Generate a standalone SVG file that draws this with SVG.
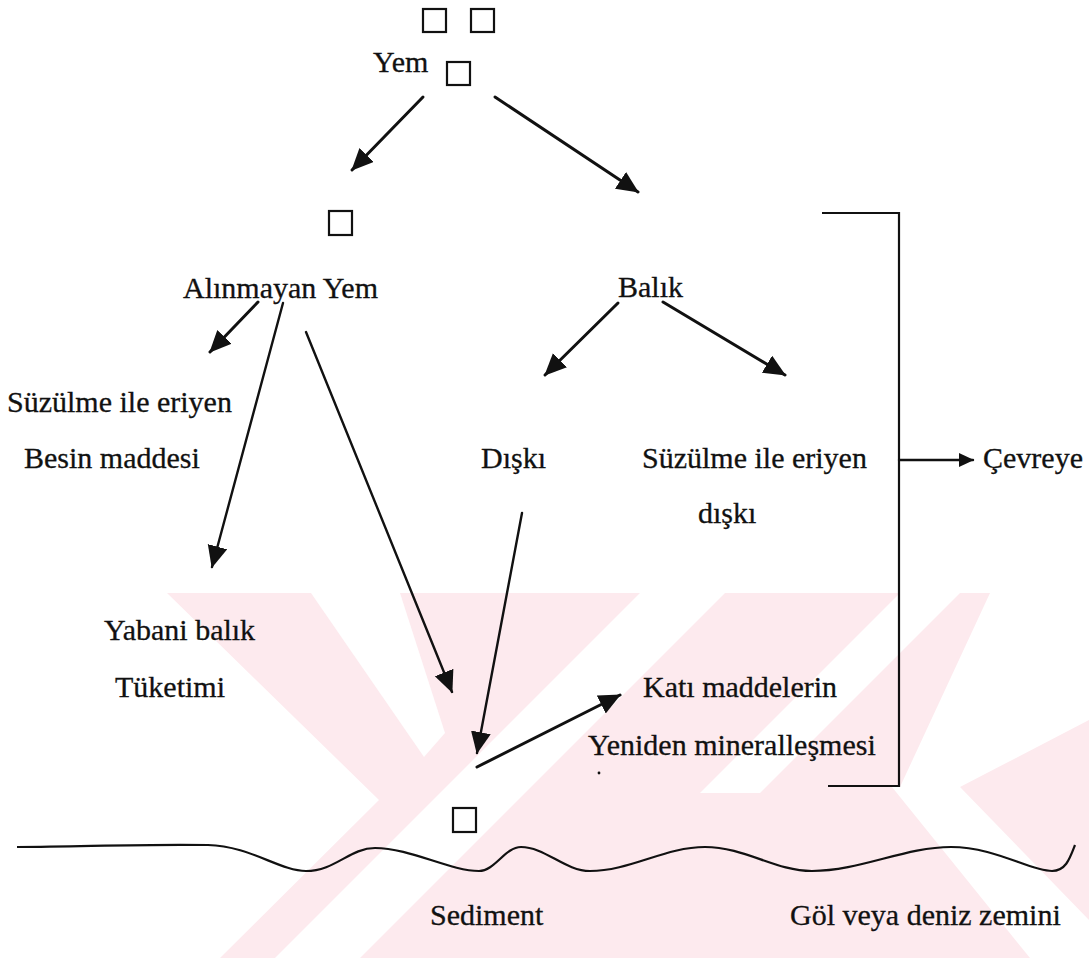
<svg xmlns="http://www.w3.org/2000/svg" width="1089" height="958" viewBox="0 0 1089 958">
<defs>
<style>
text{font-family:"Liberation Serif","Times New Roman",serif;font-size:30px;fill:#111;stroke:#111;stroke-width:0.3;}
.sq{fill:none;stroke:#111;stroke-width:2.2;}
.ln{fill:none;stroke:#111;stroke-width:3;stroke-linecap:round;}
.thin{stroke-width:2.4;}
.br{fill:none;stroke:#111;stroke-width:2.2;}
.wm{fill:#fdeaee;}
.wh{fill:#ffffff;}
</style>
<marker id="ah" markerUnits="userSpaceOnUse" markerWidth="24" markerHeight="22" viewBox="0 0 24 22" refX="21" refY="10" orient="auto"><path d="M0,0 L22,10 L0,20 Z" fill="#111"/></marker>
<marker id="ahs" markerUnits="userSpaceOnUse" markerWidth="16" markerHeight="14" viewBox="0 0 16 14" refX="14" refY="7" orient="auto"><path d="M0,0 L15,7 L0,14 Z" fill="#111"/></marker>
</defs>
<rect width="1089" height="958" fill="#ffffff"/>
<g id="watermark">
<polygon class="wm" points="167,593 1089,593 1089,958 220,958 379,800"/>
<polygon class="wh" points="311,593 400,593 445,733 424,757"/>
<polygon class="wh" points="640,593 725,593 360,958 275,958"/>
<polygon class="wh" points="900,593 960,593 760,793 700,793"/>
<polygon class="wh" points="990,593 1089,593 1089,720 960,787 900,787"/>
<polygon class="wh" points="892,787 960,787 1089,920 1089,958 1030,958"/>
</g>
<g id="connectors">
<line class="ln" x1="423" y1="97" x2="352" y2="170" marker-end="url(#ah)"/>
<line class="ln" x1="495" y1="97" x2="638" y2="192" marker-end="url(#ah)"/>
<line class="ln" x1="258" y1="302" x2="210" y2="352" marker-end="url(#ah)"/>
<line class="ln thin" x1="283" y1="303" x2="212" y2="567" marker-end="url(#ah)"/>
<line class="ln thin" x1="306" y1="332" x2="452" y2="692" marker-end="url(#ah)"/>
<line class="ln" x1="618" y1="303" x2="545" y2="375" marker-end="url(#ah)"/>
<line class="ln" x1="663" y1="302" x2="785" y2="375" marker-end="url(#ah)"/>
<line class="ln thin" x1="522" y1="513" x2="477" y2="753" marker-end="url(#ah)"/>
<line class="ln" x1="477" y1="767" x2="620" y2="695" marker-end="url(#ah)"/>
<polyline class="br" points="822,213 899,213 899,786 828,786"/>
<line class="ln thin" x1="899" y1="460" x2="973" y2="460" marker-end="url(#ahs)"/>
</g>
<g id="node-top-squares">
<rect class="sq" x="423" y="9" width="23" height="23"/>
<rect class="sq" x="471" y="9" width="23" height="23"/>
</g>
<g id="node-yem">
<text x="373" y="72">Yem</text>
<rect class="sq" x="447" y="62" width="23" height="23"/>
</g>
<g id="node-square-left">
<rect class="sq" x="329" y="211" width="23" height="24"/>
</g>
<g id="node-alinmayan"><text x="183" y="298">Alınmayan Yem</text></g>
<g id="node-balik"><text x="618" y="297">Balık</text></g>
<g id="node-suzulme-besin">
<text x="7" y="412">Süzülme ile eriyen</text>
<text x="24" y="468">Besin maddesi</text>
</g>
<g id="node-diski"><text x="481" y="468">Dışkı</text></g>
<g id="node-suzulme-diski">
<text x="642" y="468">Süzülme ile eriyen</text>
<text x="698" y="523">dışkı</text>
</g>
<g id="node-cevreye"><text x="983" y="468">Çevreye</text></g>
<g id="node-yabani">
<text x="104" y="640">Yabani balık</text>
<text x="115" y="697">Tüketimi</text>
</g>
<g id="node-kati">
<text x="643" y="697">Katı maddelerin</text>
<text x="588" y="755">Yeniden mineralleşmesi</text>
<circle cx="599" cy="773" r="1.4" fill="#111"/>
</g>
<g id="node-square-bottom">
<rect class="sq" x="453" y="808" width="23" height="24"/>
</g>
<g id="sediment">
<path d="M17,847 C100,846 150,844 208,845 C250,846 280,871 306,871 C335,871 350,848 375,848 C410,848 450,871 479,871 C495,871 505,847 521,847 C545,847 565,871 590,871 C630,871 665,847 705,847 C745,847 775,871 812,871 C860,871 905,847 951,847 C995,847 1030,871 1052,871 C1066,871 1070,858 1075,845" fill="none" stroke="#111" stroke-width="2.2"/>
<text x="430" y="925">Sediment</text>
<text x="790" y="925">Göl veya deniz zemini</text>
</g>
</svg>
